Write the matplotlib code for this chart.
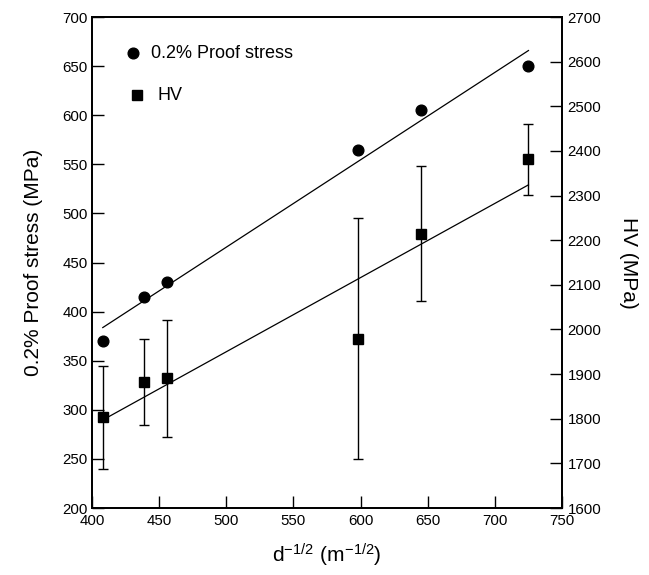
import numpy as np
import matplotlib
matplotlib.use("Agg")
import matplotlib.pyplot as plt

plt.rcParams['font.family'] = ['Liberation Sans', 'DejaVu Sans']
plt.rcParams['mathtext.fontset'] = 'custom'
plt.rcParams['mathtext.rm'] = 'Liberation Sans'
plt.rcParams['axes.unicode_minus'] = False

# Data
d_inv_sqrt = [408, 439, 456, 598, 645, 725]
proof_stress = [370, 415, 430, 565, 605, 650]
hv = [1803, 1882, 1891, 1979, 2215, 2381]
hv_err = [116, 96, 131, 270, 152, 79]

x_ticks = [400, 450, 500, 550, 600, 650, 700, 750]
left_ticks = [200, 250, 300, 350, 400, 450, 500, 550, 600, 650, 700]
right_ticks = [1600, 1700, 1800, 1900, 2000, 2100, 2200, 2300, 2400, 2500, 2600, 2700]

fig = plt.figure(figsize=(6.49, 5.75), dpi=100)
ax = fig.add_axes([0.1418, 0.1165, 0.866 - 0.1418, 0.9704 - 0.1165])
ax2 = ax.twinx()

x = np.array(d_inv_sqrt, dtype=float)
xs = np.array([x.min(), x.max()])

# proof stress
ax.plot(x, proof_stress, 'o', color='black', markersize=7.7, zorder=3)
p1 = np.polyfit(x, proof_stress, 1)
ax.plot(xs, np.polyval(p1, xs), '-', color='black', lw=0.9)

# HV
ax2.errorbar(x, hv, yerr=hv_err, fmt='s', color='black', markersize=6.5,
             capsize=3.9, elinewidth=1.0, capthick=1.0, zorder=3)
p2 = np.polyfit(x, hv, 1)
ax2.plot(xs, np.polyval(p2, xs), '-', color='black', lw=0.9)

ax.set_xlim(400, 750)
ax.set_ylim(200, 700)
ax2.set_ylim(1600, 2700)
ax.set_xticks(x_ticks)
ax.set_yticks(left_ticks)
ax2.set_yticks(right_ticks)

for a in (ax, ax2):
    a.tick_params(direction='in', length=8.3, width=1.0, labelsize=10.8, pad=4)
    for s in a.spines.values():
        s.set_linewidth(1.3)
ax.tick_params(axis='y', pad=3)

ax.set_xlabel(r'$\mathregular{d^{-1/2}\ (m^{-1/2})}$', fontsize=15, labelpad=10)
ax.set_ylabel('0.2% Proof stress (MPa)', fontsize=15, labelpad=14)
ax2.set_ylabel('HV (MPa)', fontsize=15, rotation=270, labelpad=26)

# legend as text
ax.plot([430.5], [663], 'o', color='black', markersize=7.7)
ax.text(444, 663, '0.2% Proof stress', fontsize=13, va='center', ha='left')
ax.plot([433.5], [620.5], 's', color='black', markersize=6.5)
ax.text(448.4, 620.5, 'HV', fontsize=13, va='center', ha='left')

fig.savefig('out.png', dpi=100)
